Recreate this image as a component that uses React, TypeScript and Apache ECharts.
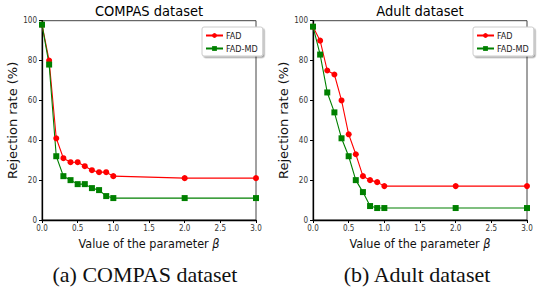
import React, { useEffect, useRef } from "react";
import * as echarts from "echarts";

const betaValues = [0, 0.1, 0.2, 0.3, 0.4, 0.5, 0.6, 0.7, 0.8, 0.9, 1.0, 2.0, 3.0];
const compasFAD = [98, 80, 41, 31, 29, 29, 27, 25, 24, 24, 22, 21, 21];
const compasFADMD = [98, 78, 32, 22, 20, 18, 18, 16, 15, 12, 11, 11, 11];
const adultFAD = [97, 90, 75, 73, 60, 43, 33, 22, 20, 19, 17, 17, 17];
const adultFADMD = [97, 83, 64, 54, 41, 32, 20, 14, 7, 6, 6, 6, 6];
const seriesNames = ["FAD", "FAD-MD"];
const panelTitles = ["COMPAS dataset", "Adult dataset"];
const captions = ["(a) COMPAS dataset", "(b) Adult dataset"];

const SANS = "'DejaVu Sans Condensed', 'DejaVu Sans', sans-serif";
const SANS_REG = "'DejaVu Sans', sans-serif";

export default function App() {
  const ref = useRef<HTMLDivElement>(null);
  useEffect(() => {
    document.body.style.margin = "0";
    if (!ref.current) return;
    const chart = echarts.init(ref.current, null, { renderer: "svg" });
    const pair = (ys: number[]) => betaValues.map((x, i) => [x, ys[i]]);
    const grids = [
      { left: 42, top: 20.7, width: 214, height: 199.3 },
      { left: 313, top: 20.7, width: 214, height: 199.3 },
    ];
    const xAxis = grids.map((_, i) => ({
      type: "value",
      gridIndex: i,
      min: 0,
      max: 3,
      interval: 0.5,
      name: "{n|Value of the parameter }{b|β}",
      nameLocation: "middle",
      nameGap: 15,
      nameTextStyle: {
        rich: {
          n: { fontFamily: SANS, fontSize: 12.5, color: "#111" },
          b: { fontFamily: SANS, fontSize: 12.5, fontStyle: "italic", color: "#111" },
        },
      },
      splitLine: { show: false },
      axisLine: { show: true, lineStyle: { color: "#000", width: 1.3 } },
      axisTick: { show: true, inside: false, length: 3, lineStyle: { color: "#000" } },
      axisLabel: {
        fontFamily: SANS,
        fontSize: 8,
        color: "#333",
        margin: 4,
        formatter: (v: number) => v.toFixed(1),
      },
    }));
    const yAxis = grids.map((_, i) => ({
      type: "value",
      gridIndex: i,
      min: 0,
      max: 100,
      interval: 20,
      name: "Rejection rate (%)",
      nameLocation: "middle",
      nameGap: 14,
      nameTextStyle: { fontFamily: SANS_REG, fontSize: 13, color: "#111" },
      splitLine: { show: false },
      axisLine: { show: true, lineStyle: { color: "#000", width: 1.3 } },
      axisTick: { show: true, inside: false, length: 3, lineStyle: { color: "#000" } },
      axisLabel: { fontFamily: SANS, fontSize: 8, color: "#333", margin: 5 },
    }));
    const mk = (name: string, data: number[], idx: number, color: string, symbol: string, size: number) => ({
      type: "line",
      name,
      xAxisIndex: idx,
      yAxisIndex: idx,
      data: pair(data),
      symbol,
      symbolSize: size,
      showAllSymbol: true,
      lineStyle: { color, width: 1.1 },
      itemStyle: { color },
    });
    const series = [
      mk(seriesNames[0], compasFAD, 0, "#ff0000", "circle", 6),
      mk(seriesNames[1], compasFADMD, 0, "#008000", "rect", 6),
      mk(seriesNames[0], adultFAD, 1, "#ff0000", "circle", 6),
      mk(seriesNames[1], adultFADMD, 1, "#008000", "rect", 6),
    ];
    const legendBase = {
      orient: "vertical",
      data: seriesNames,
      itemWidth: 17,
      itemHeight: 6,
      itemGap: 4,
      padding: [4, 5, 3, 3],
      backgroundColor: "#fff",
      borderColor: "#cccccc",
      borderWidth: 1,
      borderRadius: 2,
      shadowColor: "rgba(0,0,0,0.35)",
      shadowOffsetX: 1.5,
      shadowOffsetY: 1.5,
      shadowBlur: 1,
      textStyle: { fontFamily: SANS, fontSize: 9, color: "#222", padding: [0, 0, 0, -2] },
      selectedMode: false,
    };
    chart.setOption({
      animation: false,
      backgroundColor: "#fff",
      grid: grids.map((g) => ({ ...g, show: true, borderColor: "#444", borderWidth: 1, backgroundColor: "transparent" })),
      xAxis,
      yAxis,
      series,
      legend: [
        { ...legendBase, left: 202, top: 27 },
        { ...legendBase, left: 473, top: 27 },
      ],
      graphic: [
        ...panelTitles.map((t, i) => ({
          type: "text",
          x: grids[i].left + grids[i].width / 2,
          y: 11,
          style: {
            text: t,
            fontFamily: SANS,
            fontSize: 14.5,
            fill: "#000",
            align: "center",
            verticalAlign: "middle",
          },
        })),
        ...captions.map((t, i) => ({
          type: "text",
          x: i === 0 ? 145 : 417,
          y: 274,
          style: {
            text: t,
            fontFamily: "'Liberation Serif', 'Times New Roman', serif",
            fontSize: 22,
            fill: "#111",
            align: "center",
            verticalAlign: "middle",
          },
        })),
      ],
    });
    return () => chart.dispose();
  }, []);
  return <div ref={ref} style={{ width: 537, height: 291 }} />;
}
